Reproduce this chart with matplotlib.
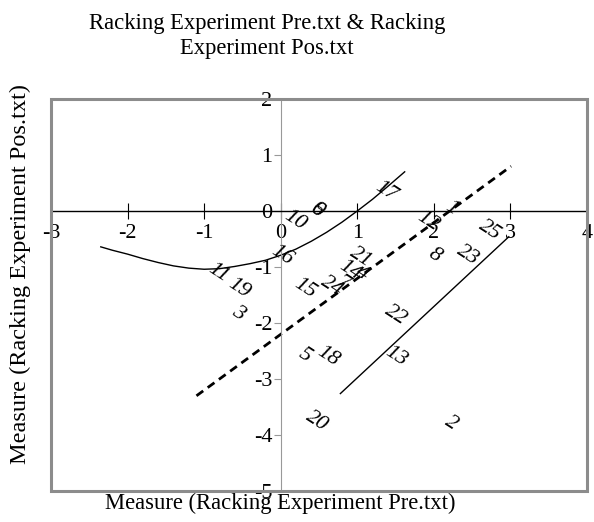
import matplotlib

matplotlib.use("Agg")
import matplotlib.pyplot as plt
from matplotlib.patches import Rectangle

plt.rcParams["font.family"] = ["Liberation Serif", "DejaVu Serif"]
plt.rcParams["axes.unicode_minus"] = False

# point labels (item numbers) and their positions
labels = ["17", "10", "6", "9", "12", "1", "8", "25", "23", "21", "14", "4",
          "15", "24", "7", "16", "11", "19", "3", "22", "5", "18", "13", "20", "2"]
pre = [1.38, 0.19, 0.47, 0.48, 1.93, 2.23, 2.01, 2.73, 2.45, 1.04, 0.91, 1.06,
       0.32, 0.67, 0.81, 0.02, -0.81, -0.55, -0.55, 1.51, 0.32, 0.62, 1.51, 0.47, 2.23]
pos = [0.35, -0.16, 0.01, 0.02, -0.18, 0.05, -0.79, -0.34, -0.79, -0.82, -1.05, -1.11,
       -1.38, -1.35, -1.29, -0.79, -1.11, -1.38, -1.83, -1.86, -2.57, -2.59, -2.59, -3.76, -3.79]

# curved control line
curve_x = [-2.35, -2.2, -2.0, -1.8, -1.6, -1.4, -1.2, -1.0, -0.8, -0.6, -0.4, -0.2,
           0.0, 0.2, 0.4, 0.6, 0.8, 1.0, 1.2, 1.4, 1.62]
curve_y = [-0.64, -0.70, -0.77, -0.85, -0.92, -0.98, -1.02, -1.04, -1.03, -0.99, -0.94,
           -0.88, -0.79, -0.68, -0.54, -0.38, -0.20, 0.0, 0.21, 0.44, 0.70]
# dashed line
dash_x = [-1.10, 3.01]
dash_y = [-3.30, 0.80]
# lower straight line
low_x = [0.78, 2.98]
low_y = [-3.26, -0.46]

xticks = [-3, -2, -1, 0, 1, 2, 3, 4]
yticks = [-5, -4, -3, -2, -1, 0, 1, 2]

fig = plt.figure(figsize=(5.94, 5.22), dpi=100)
ax = fig.add_axes([0.0859, 0.0594, 0.9021, 0.7509])
ax.set_xlim(-3, 4)
ax.set_ylim(-5, 2)

for s in ("top", "right"):
    ax.spines[s].set_visible(False)
ax.spines["left"].set_position(("data", 0))
ax.spines["bottom"].set_position(("data", 0))
ax.spines["left"].set_color("#999999")
ax.spines["bottom"].set_color("black")
ax.spines["bottom"].set_linewidth(1.0)
ax.add_patch(Rectangle((0, 0), 1, 1, transform=ax.transAxes, fill=False,
                       edgecolor="#8c8c8c", lw=2.2, clip_on=False, zorder=5))

ax.set_xticks(xticks)
ax.set_yticks(yticks)
ax.tick_params(axis="x", direction="inout", length=11, width=0.8, color="black",
               labelsize=16, pad=4)
ax.tick_params(axis="y", direction="out", length=5, width=0.8, color="#999999",
               labelsize=16, pad=1)

ax.plot(curve_x, curve_y, color="black", lw=1.0)
ax.plot(dash_x, dash_y, color="black", lw=2.0, ls=(0, (3, 2)))
ax.plot(low_x, low_y, color="black", lw=1.0)

for lab, x, y in zip(labels, pre, pos):
    ax.text(x, y, lab, fontsize=16, style="italic", rotation=-33,
            ha="center", va="center", rotation_mode="anchor")

fig.text(0.45, 0.955, "Racking Experiment Pre.txt & Racking", ha="center",
         va="center", fontsize=16.3)
fig.text(0.45, 0.908, "Experiment Pos.txt", ha="center", va="center", fontsize=16.3)
fig.text(0.472, 0.035, "Measure (Racking Experiment Pre.txt)", ha="center",
         va="center", fontsize=16.3)
fig.text(0.034, 0.475, "Measure (Racking Experiment Pos.txt)", ha="center",
         va="center", rotation=90, fontsize=17.5)

fig.savefig("out.png", dpi=100)
